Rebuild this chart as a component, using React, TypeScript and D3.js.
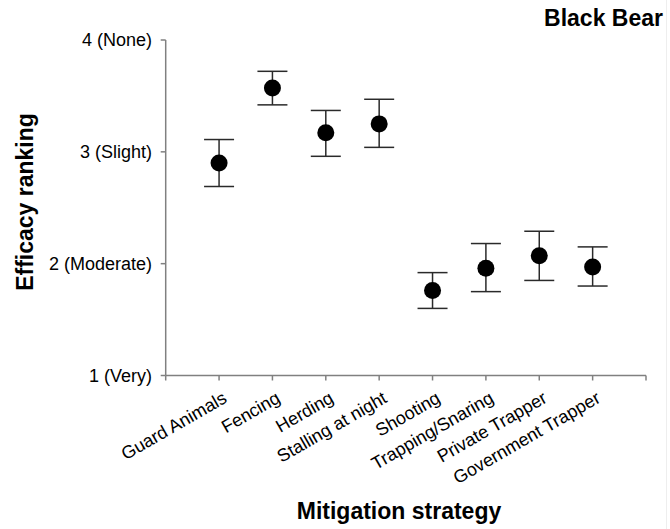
import React from "react";
import * as d3 from "d3";

const categories = [
  "Guard Animals",
  "Fencing",
  "Herding",
  "Stalling at night",
  "Shooting",
  "Trapping/Snaring",
  "Private Trapper",
  "Government Trapper",
];
const means = [2.9, 3.57, 3.17, 3.25, 1.76, 1.96, 2.07, 1.97];
const upper = [3.11, 3.72, 3.37, 3.47, 1.92, 2.18, 2.29, 2.15];
const lower = [2.69, 3.42, 2.96, 3.04, 1.6, 1.75, 1.85, 1.8];
const yTickValues = [1, 2, 3, 4];
const yTickLabels = ["1 (Very)", "2 (Moderate)", "3 (Slight)", "4 (None)"];
const title = "Black Bear";
const xTitle = "Mitigation strategy";
const yTitle = "Efficacy ranking";

const W = 670;
const H = 529;
const FONT = "'Liberation Sans', Arial, sans-serif";

export default function App() {
  const x = d3.scaleLinear().domain([0, categories.length + 1]).range([165.7, 646]);
  const y = d3.scaleLinear().domain([1, 4]).range([375.5, 40]);
  const x0 = x(0);
  const x1 = x(categories.length + 1);
  const y0 = y(1);
  const y1 = y(4);
  const axisColor = "#808080";
  const barColor = "#2a2a2a";
  const xTicks = d3.range(0, categories.length + 2);

  return (
    <svg
      width={W}
      height={H}
      style={{ position: "absolute", left: 0, top: 0, background: "#fff" }}
      fontFamily={FONT}
    >
      <rect x={0} y={0} width={W} height={H} fill="#fff" />
      <line x1={666.5} x2={666.5} y1={0} y2={H} stroke="#eeeeee" strokeWidth={1} />
      {/* title */}
      <text x={663} y={26} textAnchor="end" fontSize={23} fontWeight="bold" fill="#000">
        {title}
      </text>
      {/* y axis */}
      <line x1={x0} x2={x0} y1={y1} y2={y0} stroke={axisColor} strokeWidth={1.5} />
      {yTickValues.map((v, i) => (
        <g key={"yt" + i}>
          <line x1={x0 - 5} x2={x0} y1={y(v)} y2={y(v)} stroke={axisColor} strokeWidth={1.5} />
          <text
            x={152}
            y={y(v)}
            dy="0.36em"
            textAnchor="end"
            fontSize={18}
            fill="#000"
          >
            {yTickLabels[i]}
          </text>
        </g>
      ))}
      {/* x axis */}
      <line x1={x0} x2={x1} y1={y0} y2={y0} stroke={axisColor} strokeWidth={1.5} />
      {xTicks.map((t) => (
        <line
          key={"xt" + t}
          x1={x(t)}
          x2={x(t)}
          y1={y0}
          y2={y0 + 5}
          stroke={axisColor}
          strokeWidth={1.5}
        />
      ))}
      {categories.map((c, i) => (
        <text
          key={"xl" + i}
          transform={`translate(${x(i + 1) + 9},${y0 + 26}) rotate(-30)`}
          textAnchor="end"
          fontSize={18}
          fill="#000"
        >
          {c}
        </text>
      ))}
      {/* error bars and points */}
      {categories.map((c, i) => {
        const cx = x(i + 1);
        return (
          <g key={"pt" + i}>
            <line x1={cx} x2={cx} y1={y(upper[i])} y2={y(lower[i])} stroke={barColor} strokeWidth={1.5} />
            <line x1={cx - 15} x2={cx + 15} y1={y(upper[i])} y2={y(upper[i])} stroke={barColor} strokeWidth={1.5} />
            <line x1={cx - 15} x2={cx + 15} y1={y(lower[i])} y2={y(lower[i])} stroke={barColor} strokeWidth={1.5} />
            <circle cx={cx} cy={y(means[i])} r={8.5} fill="#000" />
          </g>
        );
      })}
      {/* axis titles */}
      <text x={399} y={519} textAnchor="middle" fontSize={23} fontWeight="bold" fill="#000">
        {xTitle}
      </text>
      <text
        transform={`translate(33,202) rotate(-90)`}
        textAnchor="middle"
        fontSize={23}
        fontWeight="bold"
        fill="#000"
      >
        {yTitle}
      </text>
    </svg>
  );
}
